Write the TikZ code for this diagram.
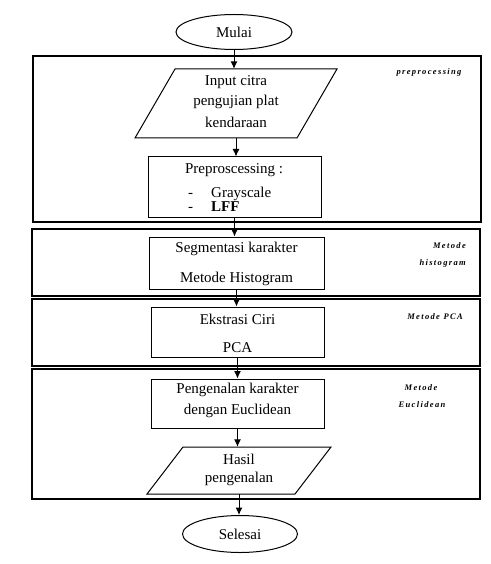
\documentclass[tikz,border=0pt]{standalone}
\usepackage{fontspec}
\setmainfont{Liberation Serif}
\usetikzlibrary{shapes.geometric,arrows.meta}
\newcommand{\mainfs}{\fontsize{15}{16}\selectfont}
\newcommand{\labfs}{\fontsize{8.5}{10}\selectfont\bfseries\itshape\addfontfeature{LetterSpace=16}}
\begin{document}
\begin{tikzpicture}[x=1pt,y=-1pt,
  frame/.style={draw,line width=1.4pt},
  boxnode/.style={draw,line width=1pt,rectangle,inner sep=0pt},
  termnode/.style={draw,line width=1pt,ellipse,inner sep=0pt,font=\mainfs},
  ioshape/.style={draw,line width=1pt},
  ionode/.style={rectangle,inner sep=0pt},
  txt/.style={inner sep=0pt,font=\mainfs},
  lab/.style={inner sep=0pt,font=\labfs},
  arr/.style={line width=1pt,-{Latex[length=7.5pt,width=7pt]}}
]
\useasboundingbox (0,0) rectangle (490,564);
\fill[white] (0,0) rectangle (490,564);

% frames
\draw[frame] (33,56) rectangle (481,222);
\draw[frame] (32,229) rectangle (480,296);
\draw[frame] (32,299) rectangle (480,366);
\draw[frame] (32,369) rectangle (480,499);

% start
\node[termnode,minimum width=116,minimum height=35] (mulai) at (234,32) {Mulai};

% input parallelogram
\draw[ioshape] (175,69) -- (337,69) -- (297,138) -- (135,138) -- cycle;
\node[ionode,minimum width=160,minimum height=69] (input) at (236,103.5) {};
\node[txt] (t1) at (236,82) {Input citra};
\node[txt] (t2) at (236,102) {pengujian plat};
\node[txt] (t3) at (236,122) {kendaraan};

% preprocessing box
\node[boxnode,minimum width=173,minimum height=60] (pre) at (234.5,187) {};
\node[txt] (p1) at (234,170) {Preproscessing :};
\node[txt,anchor=west,align=left,font=\fontsize{15}{12}\selectfont] (p2) at (188,199)
  {-\hspace{18pt}Grayscale\\-\hspace{18pt}\textbf{LFF}};
\node[lab] (l1) at (429,72) {preprocessing};

% segmentation
\node[boxnode,minimum width=175,minimum height=52] (seg) at (236.5,263) {};
\node[txt] (s1) at (236.5,249) {Segmentasi karakter};
\node[txt] (s2) at (236.5,279) {Metode Histogram};
\node[lab,anchor=east] (l2a) at (466,246) {Metode};
\node[lab,anchor=east] (l2b) at (466,263) {histogram};

% feature extraction
\node[boxnode,minimum width=173,minimum height=50] (eks) at (237.5,332) {};
\node[txt] (e1) at (237.5,319) {Ekstrasi Ciri};
\node[txt] (e2) at (237.5,348) {PCA};
\node[lab] (l3) at (435,317) {Metode PCA};

% recognition
\node[boxnode,minimum width=173,minimum height=49] (pen) at (237.5,403.5) {};
\node[txt] (r1) at (237.5,390) {Pengenalan karakter};
\node[txt] (r2) at (237.5,411) {dengan Euclidean};
\node[lab] (l4a) at (421,388) {Metode};
\node[lab] (l4b) at (422,405) {Euclidean};

% result parallelogram
\draw[ioshape] (183,447) -- (331,447) -- (295,494) -- (147,494) -- cycle;
\node[ionode,minimum width=148,minimum height=47] (hasil) at (239,470.5) {};
\node[txt] (h1) at (239,459) {Hasil};
\node[txt] (h2) at (239,479) {pengenalan};

% end
\node[termnode,minimum width=115,minimum height=37] (selesai) at (240,534) {Selesai};

% arrows
\draw[arr] (mulai.south) -- (mulai.south |- input.north);
\draw[arr] (input.south) -- (input.south |- pre.north);
\draw[arr] (pre.south) -- (pre.south |- seg.north);
\draw[arr] (seg.south) -- (seg.south |- eks.north);
\draw[arr] (eks.south) -- (eks.south |- pen.north);
\draw[arr] (pen.south) -- (pen.south |- hasil.north);
\draw[arr] (hasil.south) -- (hasil.south |- selesai.north);
\end{tikzpicture}
\end{document}
